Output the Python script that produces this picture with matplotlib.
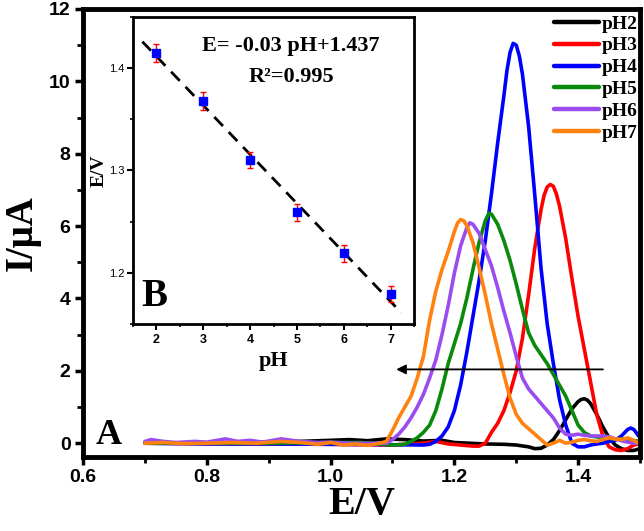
import numpy as np
import matplotlib
matplotlib.use("Agg")
import matplotlib.pyplot as plt
from matplotlib.ticker import MultipleLocator

plt.rcParams['font.family'] = ['Liberation Sans', 'DejaVu Sans']
plt.rcParams['font.weight'] = 'bold'
SERIF = ['Liberation Serif', 'DejaVu Serif']

# ---------------- main DPV data ----------------
labels = ['pH2', 'pH3', 'pH4', 'pH5', 'pH6', 'pH7']
colors = ['#000000', '#ff0000', '#0000ff', '#0a8a0a', '#9a4cf0', '#ff8210']

ph2_x = [0.70, 0.75, 0.80, 0.85, 0.90, 0.95, 1.00, 1.03, 1.06, 1.09, 1.12, 1.15, 1.18, 1.20, 1.25,
         1.28, 1.30, 1.32, 1.33, 1.34, 1.35, 1.36, 1.37, 1.38, 1.39, 1.40, 1.405, 1.41, 1.415, 1.42,
         1.43, 1.44, 1.45, 1.46, 1.47, 1.48, 1.49, 1.50]
ph2_y = [0.02, 0.00, 0.00, 0.02, 0.03, 0.05, 0.08, 0.10, 0.07, 0.12, 0.10, 0.06, 0.08, 0.02, -0.02,
         -0.03, -0.05, -0.10, -0.15, -0.14, -0.05, 0.10, 0.35, 0.65, 0.95, 1.15, 1.21, 1.23, 1.19, 1.10,
         0.80, 0.45, 0.15, -0.05, -0.15, -0.20, -0.20, -0.15]

ph3_x = [0.70, 0.80, 0.90, 1.00, 1.10, 1.15, 1.17, 1.19, 1.21, 1.23, 1.24, 1.25, 1.26, 1.27, 1.28,
         1.29, 1.30, 1.31, 1.32, 1.33, 1.34, 1.345, 1.35, 1.355, 1.36, 1.365, 1.37, 1.38, 1.39, 1.40,
         1.41, 1.42, 1.43, 1.44, 1.45, 1.46, 1.47, 1.48, 1.49, 1.50]
ph3_y = [0.00, -0.01, -0.02, -0.03, -0.05, 0.00, 0.05, -0.02, -0.05, -0.08, -0.08, 0.00, 0.30, 0.55, 0.90,
         1.40, 2.00, 2.90, 4.10, 5.40, 6.45, 6.85, 7.08, 7.15, 7.10, 6.88, 6.55, 5.65, 4.55, 3.50,
         2.60, 1.70, 0.80, 0.20, -0.10, -0.18, -0.20, -0.15, -0.05, 0.00]

ph4_x = [0.70, 0.80, 0.90, 1.00, 1.10, 1.15, 1.16, 1.17, 1.18, 1.19, 1.20, 1.21, 1.22, 1.23, 1.24,
         1.25, 1.26, 1.27, 1.28, 1.285, 1.29, 1.295, 1.30, 1.305, 1.31, 1.32, 1.33, 1.34, 1.35, 1.36,
         1.37, 1.38, 1.39, 1.40, 1.41, 1.42, 1.43, 1.44, 1.45, 1.46, 1.47, 1.48, 1.485, 1.49, 1.50]
ph4_y = [0.00, -0.02, -0.02, -0.03, -0.04, -0.05, -0.03, 0.05, 0.20, 0.45, 0.90, 1.60, 2.50, 3.50, 4.50,
         5.60, 6.90, 8.30, 9.60, 10.30, 10.80, 11.05, 11.00, 10.70, 10.20, 8.75, 6.85, 4.85, 3.30, 2.20,
         1.20, 0.50, 0.00, -0.10, -0.10, -0.05, -0.02, 0.00, 0.05, 0.08, 0.20, 0.38, 0.42, 0.38, 0.15]

ph5_x = [0.70, 0.80, 0.90, 1.00, 1.05, 1.10, 1.12, 1.13, 1.14, 1.15, 1.16, 1.17, 1.18, 1.19, 1.20,
         1.21, 1.22, 1.23, 1.24, 1.25, 1.256, 1.26, 1.27, 1.28, 1.29, 1.30, 1.31, 1.32, 1.33, 1.34,
         1.35, 1.36, 1.37, 1.38, 1.39, 1.40, 1.41, 1.42, 1.44, 1.46, 1.48, 1.50]
ph5_y = [0.00, 0.00, 0.00, 0.02, 0.02, -0.05, -0.03, 0.05, 0.15, 0.30, 0.50, 0.90, 1.50, 2.20, 2.75,
         3.30, 4.00, 4.80, 5.55, 6.15, 6.36, 6.33, 6.05, 5.60, 5.05, 4.40, 3.70, 3.05, 2.70, 2.45,
         2.20, 1.90, 1.60, 1.30, 0.90, 0.50, 0.30, 0.20, 0.15, 0.12, 0.10, 0.05]

ph6_x = [0.70, 0.71, 0.73, 0.75, 0.78, 0.80, 0.83, 0.85, 0.87, 0.89, 0.92, 0.95, 0.98, 1.00, 1.03,
         1.06, 1.09, 1.10, 1.11, 1.12, 1.13, 1.14, 1.15, 1.16, 1.17, 1.18, 1.19, 1.20, 1.21, 1.22,
         1.225, 1.23, 1.24, 1.25, 1.26, 1.27, 1.28, 1.29, 1.30, 1.31, 1.32, 1.33, 1.34, 1.35, 1.36,
         1.37, 1.38, 1.39, 1.40, 1.41, 1.42, 1.43, 1.44, 1.45, 1.46, 1.47, 1.48, 1.49, 1.50]
ph6_y = [0.05, 0.10, 0.05, 0.02, 0.05, 0.03, 0.12, 0.05, 0.08, 0.03, 0.12, 0.05, 0.02, 0.03, 0.00,
         0.00, 0.00, 0.10, 0.25, 0.45, 0.70, 1.00, 1.35, 1.80, 2.30, 3.00, 3.80, 4.70, 5.45, 5.95,
         6.09, 6.05, 5.80, 5.35, 4.90, 4.30, 3.65, 3.05, 2.40, 1.80, 1.50, 1.30, 1.10, 0.90, 0.70,
         0.42, 0.25, 0.22, 0.25, 0.22, 0.20, 0.20, 0.20, 0.18, 0.12, 0.07, 0.03, 0.00, 0.02]

ph7_x = [0.70, 0.73, 0.76, 0.80, 0.84, 0.88, 0.92, 0.95, 0.98, 1.00, 1.02, 1.04, 1.06, 1.08, 1.09,
         1.10, 1.11, 1.12, 1.13, 1.14, 1.15, 1.16, 1.17, 1.18, 1.19, 1.20, 1.205, 1.21, 1.215, 1.22,
         1.23, 1.24, 1.25, 1.26, 1.27, 1.28, 1.29, 1.30, 1.31, 1.32, 1.33, 1.34, 1.35, 1.36, 1.37,
         1.38, 1.39, 1.40, 1.41, 1.42, 1.43, 1.44, 1.45, 1.46, 1.47, 1.48, 1.49, 1.50]
ph7_y = [0.00, 0.02, -0.01, 0.00, 0.02, 0.00, 0.05, 0.02, -0.03, 0.02, -0.05, -0.02, -0.06, 0.00, 0.05,
         0.35, 0.70, 1.00, 1.30, 1.80, 2.40, 3.40, 4.20, 4.80, 5.30, 5.85, 6.08, 6.18, 6.15, 6.02,
         5.55, 4.85, 4.10, 3.30, 2.60, 1.90, 1.25, 0.80, 0.55, 0.40, 0.25, 0.10, -0.05, 0.00, 0.08,
         0.00, 0.03, 0.08, 0.10, 0.07, 0.05, 0.10, 0.15, 0.12, 0.10, 0.15, 0.08, -0.03]

series_x = [ph2_x, ph3_x, ph4_x, ph5_x, ph6_x, ph7_x]
series_y = [ph2_y, ph3_y, ph4_y, ph5_y, ph6_y, ph7_y]

# ---------------- inset data ----------------
inset_ph = [2, 3, 4, 5, 6, 7]
inset_E = [1.415, 1.368, 1.310, 1.259, 1.219, 1.179]
inset_err = [0.009, 0.009, 0.008, 0.008, 0.008, 0.008]
fit_range = [1.70, 7.23]

# ---------------- figure ----------------
fig = plt.figure(figsize=(6.44, 5.31), dpi=100)
ax = fig.add_axes([0.129, 0.1394, 0.8648, 0.8437])

for xs, ys, c, lab in zip(series_x, series_y, colors, labels):
    ax.plot(xs, ys, color=c, lw=2.6, label=lab, solid_joinstyle='round', solid_capstyle='round')

ax.set_xlim(0.6, 1.5)
ax.set_ylim(-0.38, 12.0)
ax.xaxis.set_major_locator(MultipleLocator(0.2))
ax.xaxis.set_minor_locator(MultipleLocator(0.1))
ax.yaxis.set_major_locator(MultipleLocator(2))
ax.yaxis.set_minor_locator(MultipleLocator(1))
ax.tick_params(which='major', direction='out', length=6, width=2.5, labelsize=14, pad=3)
ax.tick_params(which='minor', direction='out', length=4, width=2.0)
ax.xaxis.set_major_formatter(matplotlib.ticker.FormatStrFormatter('%.1f'))
for sp in ax.spines.values():
    sp.set_linewidth(3.5)

ax.set_xlabel('E/V', family=SERIF, fontsize=29, fontweight='bold', labelpad=0)
ax.set_ylabel('I/\u03bcA', family=SERIF, fontsize=28, fontweight='bold', labelpad=6)

ax.text(0.023, 0.012, 'A', transform=ax.transAxes, family=SERIF, fontsize=26,
        fontweight='bold', ha='left', va='bottom')

ax.annotate('', xy=(1.106, 2.04), xytext=(1.44, 2.04),
            arrowprops=dict(arrowstyle='-|>', color='black', lw=1.3,
                            mutation_scale=14, shrinkA=0, shrinkB=0))

leg = ax.legend(loc='upper right', bbox_to_anchor=(638 / 644, 1 - 15 / 531),
                bbox_transform=fig.transFigure, frameon=False, borderpad=0,
                borderaxespad=0, handlelength=2.3, handletextpad=0.15,
                labelspacing=0.22, prop={'family': SERIF, 'weight': 'bold', 'size': 14})
for line in leg.get_lines():
    line.set_linewidth(3.2)

# ---------------- inset ----------------
ax2 = fig.add_axes([0.2065, 0.390, 0.4365, 0.578])
ax2.set_facecolor('white')
ax2.errorbar(inset_ph, inset_E, yerr=inset_err, fmt='s', color='#0000ff', ms=6,
             ecolor='#ff0000', elinewidth=1.0, capsize=2.5, capthick=1.0, zorder=3)
slope, intercept = np.polyfit(inset_ph, inset_E, 1)
fx = np.array(fit_range)
ax2.plot(fx, slope * fx + intercept, color='black', lw=2.0, ls=(0, (4.5, 3)), zorder=2)

ax2.set_xlim(1.5, 7.5)
ax2.set_ylim(1.15, 1.45)
ax2.xaxis.set_major_locator(MultipleLocator(1))
ax2.xaxis.set_minor_locator(MultipleLocator(0.5))
ax2.yaxis.set_major_locator(MultipleLocator(0.1))
ax2.yaxis.set_minor_locator(MultipleLocator(0.05))
ax2.tick_params(which='major', direction='out', length=4, width=1.5, labelsize=9, pad=3)
ax2.tick_params(which='minor', direction='out', length=2.5, width=1.2)
ax2.tick_params(axis='y', which='major', labelsize=8, pad=2)
ax2.yaxis.set_major_formatter(matplotlib.ticker.FormatStrFormatter('%.1f'))
for lbl in ax2.get_yticklabels():
    lbl.set_fontweight('normal')
for sp in ax2.spines.values():
    sp.set_linewidth(2.0)

ax2.set_xlabel('pH', family=SERIF, fontsize=16, fontweight='bold', labelpad=4)
ax2.set_ylabel('E/V', family=SERIF, fontsize=14, fontweight='bold')
ax2.yaxis.set_label_coords(-0.09, 0.5)

ax2.text(0.56, 0.905, 'E= -0.03 pH+1.437', transform=ax2.transAxes, family=SERIF,
         fontsize=16, fontweight='bold', ha='center', va='center')
ax2.text(0.565, 0.805, 'R\u00b2=0.995', transform=ax2.transAxes, family=SERIF,
         fontsize=16, fontweight='bold', ha='center', va='center')
ax2.text(0.03, 0.03, 'B', transform=ax2.transAxes, family=SERIF, fontsize=28,
         fontweight='bold', ha='left', va='bottom')

fig.savefig('out.png', dpi=100)
